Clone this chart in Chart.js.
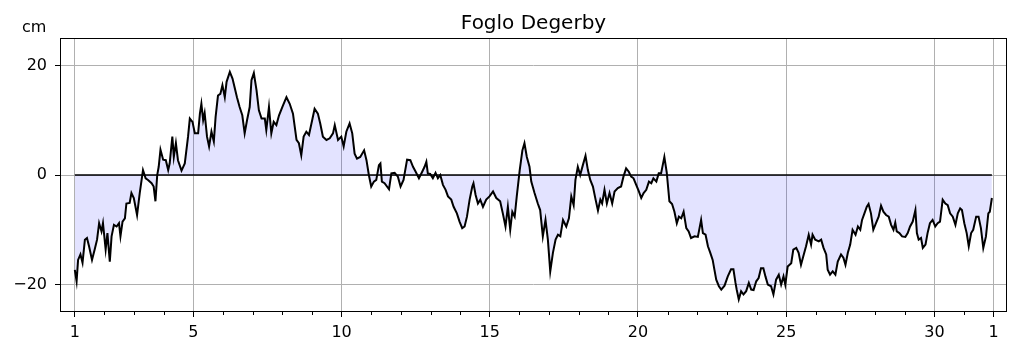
<!DOCTYPE html>
<html>
<head>
<meta charset="utf-8">
<title>Foglo Degerby</title>
<script src="https://cdn.jsdelivr.net/npm/chart.js@4/dist/chart.umd.min.js"></script>
<style>
  html, body { margin: 0; padding: 0; background: #fff; }
  #wrap { position: relative; width: 1019px; height: 352px; }
</style>
</head>
<body>
<div id="wrap"><canvas id="seaChart" width="1019" height="352"></canvas></div>
<script>
const titleText = 'Foglo Degerby';
const unitText = 'cm';

// time in days of the month (32 = 1st of next month), sea level in cm
const days = [
  1.00, 1.06, 1.11, 1.19, 1.26, 1.34, 1.41, 1.48, 1.58, 1.67, 1.75, 1.82, 1.90, 1.95,
  2.04, 2.10, 2.18, 2.24, 2.32, 2.41, 2.49, 2.54, 2.61, 2.69, 2.74, 2.85, 2.91, 2.99,
  3.10, 3.19, 3.30, 3.39, 3.47, 3.59, 3.66, 3.72, 3.78, 3.83, 3.89, 3.98,
  4.07, 4.15, 4.20, 4.29, 4.34, 4.41, 4.48, 4.60, 4.71, 4.82, 4.88, 4.97,
  5.05, 5.16, 5.22, 5.27, 5.33, 5.38, 5.46, 5.53, 5.61, 5.69, 5.75, 5.83, 5.91, 5.98,
  6.06, 6.12, 6.23, 6.32, 6.40, 6.47, 6.56, 6.65, 6.73, 6.81, 6.90, 6.96,
  7.04, 7.13, 7.21, 7.30, 7.41, 7.46, 7.55, 7.63, 7.71, 7.80, 7.89,
  8.00, 8.14, 8.25, 8.36, 8.48, 8.56, 8.64, 8.72, 8.81, 8.90,
  9.02, 9.09, 9.20, 9.28, 9.37, 9.49, 9.60, 9.71, 9.77, 9.88, 9.99,
  10.07, 10.16, 10.27, 10.36, 10.44, 10.52, 10.63, 10.76, 10.84, 10.92,
  11.00, 11.09, 11.17, 11.26, 11.31, 11.36, 11.45, 11.60, 11.68, 11.79, 11.90, 11.99,
  12.09, 12.21, 12.32, 12.41, 12.50, 12.61, 12.72, 12.80, 12.86, 12.91, 12.99,
  13.08, 13.17, 13.25, 13.33, 13.42, 13.51, 13.59, 13.70, 13.78, 13.89, 13.98,
  14.07, 14.15, 14.23, 14.32, 14.41, 14.45, 14.52, 14.60, 14.68, 14.77, 14.88, 14.99,
  15.11, 15.22, 15.35, 15.44, 15.53, 15.61, 15.69, 15.76, 15.84, 15.91,
  16.01, 16.10, 16.17, 16.25, 16.34, 16.40, 16.51, 16.62, 16.70, 16.79, 16.88, 16.96,
  17.04, 17.13, 17.22, 17.30, 17.38, 17.47, 17.58, 17.67, 17.75, 17.83, 17.89, 17.97,
  18.05, 18.14, 18.23, 18.31, 18.39, 18.48, 18.57, 18.65, 18.73, 18.79, 18.87, 18.95,
  19.04, 19.13, 19.21, 19.32, 19.43, 19.51, 19.60, 19.69, 19.77, 19.85, 19.94,
  20.03, 20.11, 20.19, 20.28, 20.37, 20.45, 20.52, 20.62, 20.70, 20.78, 20.89, 20.97,
  21.06, 21.15, 21.23, 21.31, 21.38, 21.46, 21.54, 21.63, 21.71, 21.79, 21.91,
  22.02, 22.13, 22.19, 22.28, 22.36, 22.44, 22.52, 22.58, 22.64, 22.73, 22.81, 22.92,
  23.03, 23.14, 23.22, 23.29, 23.33, 23.40, 23.48, 23.56, 23.65, 23.74, 23.82, 23.90, 23.99,
  24.07, 24.15, 24.23, 24.30, 24.38, 24.49, 24.57, 24.66, 24.75, 24.83, 24.91, 24.97,
  25.05, 25.17, 25.24, 25.34, 25.42, 25.50, 25.58, 25.67, 25.76, 25.84, 25.89, 25.98,
  26.10, 26.18, 26.26, 26.35, 26.40, 26.48, 26.57, 26.66, 26.74, 26.85, 26.93,
  27.00, 27.08, 27.16, 27.24, 27.34, 27.42, 27.50, 27.56, 27.64, 27.72, 27.78, 27.86, 27.94,
  28.03, 28.12, 28.20, 28.28, 28.37, 28.46, 28.54, 28.62, 28.68, 28.73, 28.82, 28.91,
  29.02, 29.10, 29.18, 29.27, 29.36, 29.41, 29.47, 29.55, 29.61, 29.70, 29.77, 29.85, 29.94,
  30.03, 30.11, 30.19, 30.28, 30.37, 30.45, 30.53, 30.62, 30.71, 30.79, 30.87, 30.93,
  31.01, 31.09, 31.16, 31.24, 31.31, 31.41, 31.49, 31.57, 31.65, 31.74, 31.82, 31.87, 31.94
];
const levels = [
  -17.3, -19.4, -15.5, -14.5, -16.0, -11.8, -11.5, -13.0, -15.5, -13.6, -11.8, -8.8, -10.3, -8.8,
  -13.6, -10.6, -15.8, -11.2, -9.1, -9.4, -8.8, -11.2, -8.5, -7.9, -5.2, -5.1, -3.3, -4.2,
  -7.3, -3.3, 0.9, -0.6, -0.9, -1.5, -2.1, -4.8, 0.0, 1.5, 4.6, 2.8,
  2.7, 0.9, 2.1, 7.0, 3.3, 5.8, 2.7, 0.8, 2.1, 7.0, 10.3, 9.7,
  7.6, 7.6, 11.2, 13.0, 10.0, 11.3, 7.0, 5.2, 7.9, 6.1, 10.6, 14.5, 14.8, 16.4,
  14.2, 17.0, 18.8, 17.6, 15.8, 14.2, 12.4, 10.9, 7.6, 10.0, 12.4, 17.3,
  18.6, 15.5, 11.8, 10.3, 10.3, 8.2, 12.4, 7.6, 9.7, 9.1, 10.9,
  12.4, 14.2, 13.0, 11.2, 6.4, 5.8, 3.6, 7.0, 7.9, 7.3,
  10.3, 12.1, 11.2, 9.4, 7.0, 6.4, 6.7, 7.6, 9.1, 6.4, 7.0,
  5.2, 7.9, 9.4, 7.6, 3.9, 3.0, 3.3, 4.5, 2.7, 0.0,
  -2.1, -1.2, -0.9, 1.8, 2.1, -1.2, -1.5, -2.6, 0.3, 0.4, -0.3, -2.1,
  -0.9, 2.8, 2.7, 1.5, 0.6, -0.6, 0.6, 1.5, 2.4, 0.3, 0.2,
  -0.6, 0.4, -0.6, 0.0, -1.8, -2.7, -3.9, -4.5, -5.8, -7.0, -8.5,
  -9.7, -9.4, -7.6, -4.5, -2.1, -1.5, -3.6, -5.2, -4.5, -5.8, -4.5, -3.9,
  -3.0, -4.2, -4.8, -7.0, -9.4, -5.8, -10.0, -6.7, -7.6, -3.9,
  0.9, 4.5, 5.8, 3.3, 1.5, -1.2, -3.3, -5.2, -6.4, -11.2, -8.2, -11.8,
  -17.6, -14.2, -11.8, -10.9, -11.2, -8.2, -9.4, -7.9, -3.9, -5.5, -0.9, 1.5,
  0.0, 1.8, 3.5, 0.9, -0.9, -2.1, -4.5, -6.5, -4.5, -5.2, -2.7, -5.2,
  -3.3, -5.2, -3.0, -2.4, -2.1, -0.3, 1.2, 0.6, -0.3, -0.6, -1.8,
  -3.0, -4.2, -3.3, -2.7, -1.2, -1.5, -0.6, -1.2, 0.3, 0.3, 3.3, 0.5,
  -4.8, -5.3, -6.7, -8.8, -7.6, -7.9, -6.7, -9.7, -10.3, -11.5, -11.2,
  -11.3, -8.2, -10.6, -10.9, -13.0, -14.2, -15.5, -17.3, -19.1, -20.3, -20.9, -20.2,
  -18.5, -17.2, -17.2, -19.7, -20.9, -22.7, -21.2, -21.8, -21.2, -19.7, -20.9, -21.0, -19.4,
  -18.8, -17.0, -17.0, -18.5, -20.0, -20.3, -21.8, -19.1, -18.2, -20.0, -18.5, -20.0,
  -16.7, -16.1, -13.6, -13.3, -14.2, -16.4, -14.8, -13.0, -10.9, -12.7, -10.9, -11.8,
  -12.1, -11.8, -13.3, -14.5, -17.3, -18.2, -17.6, -18.2, -15.8, -14.5, -15.1,
  -16.4, -14.2, -12.7, -10.0, -10.9, -9.4, -10.0, -8.2, -7.0, -5.8, -5.3, -7.0, -10.0,
  -8.8, -7.6, -5.6, -6.7, -7.3, -7.6, -9.1, -10.0, -8.7, -10.3, -10.6, -11.2,
  -11.3, -10.6, -9.4, -8.5, -6.4, -10.6, -11.8, -11.5, -13.3, -12.7, -10.6, -8.8, -8.2,
  -9.4, -8.8, -8.5, -4.5, -5.2, -5.5, -7.0, -7.6, -9.1, -7.0, -6.1, -6.4,
  -8.8, -10.6, -13.0, -10.6, -10.0, -7.6, -7.6, -9.7, -13.3, -11.2, -7.0, -6.7, -4.2
];

const xMajorDays = [1, 5, 10, 15, 20, 25, 30, 32];
const xMajorLabels = ['1', '5', '10', '15', '20', '25', '30', '1'];
const yTicks = [-20, 0, 20];

const seaPoints = days.map((d, i) => ({ x: d, y: levels[i] }));
const zeroPoints = [{ x: days[0], y: 0 }, { x: days[days.length - 1], y: 0 }];

const fontFamily = '"DejaVu Sans", sans-serif';

// title, unit label, frame and the small day ticks
const extrasPlugin = {
  id: 'extras',
  afterDraw(chart) {
    const { ctx, chartArea } = chart;
    ctx.save();
    ctx.fillStyle = '#000';
    ctx.font = '20px ' + fontFamily;
    ctx.textAlign = 'center';
    ctx.textBaseline = 'alphabetic';
    ctx.fillText(titleText, (chartArea.left + chartArea.right) / 2, 28.5);
    ctx.font = '16px ' + fontFamily;
    ctx.textAlign = 'left';
    ctx.fillText(unitText, 22, 32);

    ctx.strokeStyle = '#000';
    ctx.lineWidth = 1;
    ctx.strokeRect(chartArea.left + 0.5, chartArea.top + 0.5, chartArea.width - 1, chartArea.height - 1);

    const xs = chart.scales.x;
    ctx.beginPath();
    for (let d = 2; d < 32; d++) {
      if (xMajorDays.includes(d)) continue;
      const px = Math.round(xs.getPixelForValue(d)) + 0.5;
      ctx.moveTo(px, chartArea.bottom);
      ctx.lineTo(px, chartArea.bottom + 3);
    }
    ctx.stroke();
    ctx.restore();
  }
};

const ctx = document.getElementById('seaChart').getContext('2d');
const seaChart = new Chart(ctx, {
  type: 'line',
  data: {
    datasets: [{
      data: seaPoints,
      borderColor: '#000',
      borderWidth: 2,
      backgroundColor: 'rgba(0, 0, 255, 0.11)',
      fill: 'origin',
      pointRadius: 0,
      tension: 0
    }, {
      data: zeroPoints,
      borderColor: '#000',
      borderWidth: 1.4,
      pointRadius: 0,
      fill: false
    }]
  },
  options: {
    responsive: false,
    animation: false,
    devicePixelRatio: 1,
    layout: { padding: { top: 38, right: 12, left: 0, bottom: 0 } },
    plugins: {
      legend: { display: false },
      tooltip: { enabled: false },
      filler: { drawTime: 'beforeDatasetsDraw' }
    },
    scales: {
      x: {
        type: 'linear',
        min: 0.5,
        max: 32.45,
        afterBuildTicks: scale => {
          const t = [];
          for (let d = 1; d <= 32; d++) t.push({ value: d });
          scale.ticks = t;
        },
        afterFit: scale => { scale.height = 40; },
        ticks: {
          autoSkip: false,
          maxRotation: 0,
          padding: 6,
          color: '#000',
          font: { family: fontFamily, size: 16 },
          callback: value => {
            const i = xMajorDays.indexOf(value);
            return i >= 0 ? xMajorLabels[i] : '';
          }
        },
        grid: {
          color: c => xMajorDays.includes(c.tick.value) ? '#b0b0b0' : 'rgba(0,0,0,0)',
          tickColor: c => xMajorDays.includes(c.tick.value) ? '#000' : 'rgba(0,0,0,0)',
          lineWidth: 1,
          tickLength: 5
        },
        border: { display: false }
      },
      y: {
        min: -25,
        max: 25,
        afterBuildTicks: scale => { scale.ticks = yTicks.map(v => ({ value: v })); },
        afterFit: scale => { scale.width = 60; },
        ticks: {
          padding: 8,
          color: '#000',
          font: { family: fontFamily, size: 16 },
          callback: value => String(value).replace('-', '\u2212')
        },
        grid: {
          color: '#b0b0b0',
          tickColor: '#000',
          lineWidth: 1,
          tickLength: 5
        },
        border: { display: false }
      }
    }
  },
  plugins: [extrasPlugin]
});
</script>
</body>
</html>
